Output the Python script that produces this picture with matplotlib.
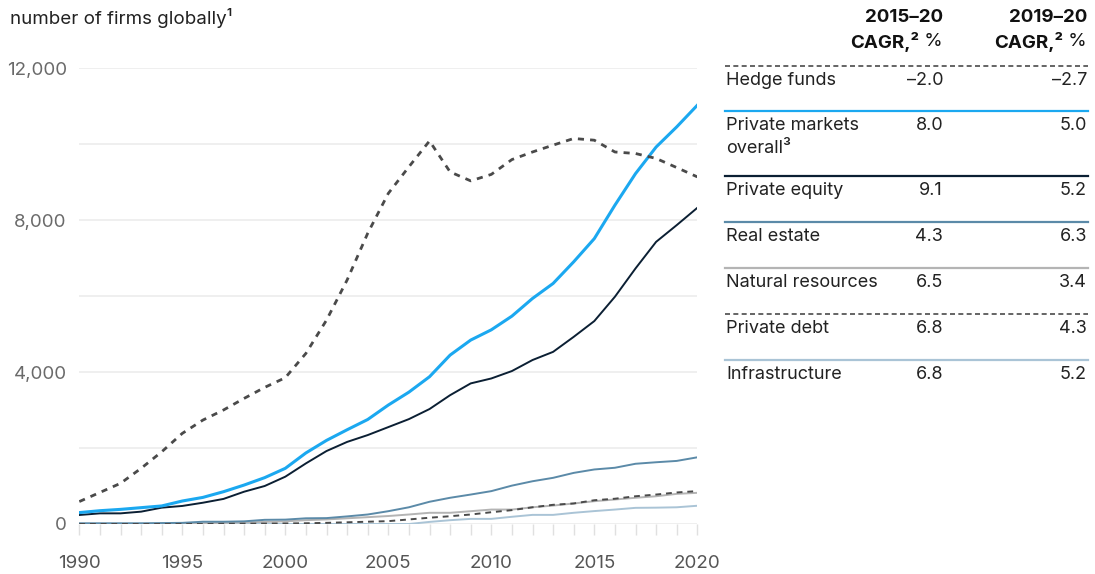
import numpy as np
import matplotlib
matplotlib.use("Agg")
import matplotlib.pyplot as plt
from matplotlib.lines import Line2D

plt.rcParams['font.family'] = ['Inter', 'DejaVu Sans']

years = np.arange(1990, 2021)

hedge_funds = [590, 830, 1070, 1465, 1900, 2385, 2735, 3000, 3305, 3595,
               3850, 4490, 5365, 6420, 7650, 8700, 9400, 10080, 9265, 9030,
               9200, 9590, 9790, 9970, 10145, 10100, 9790, 9750, 9620, 9380, 9135]
private_markets = [300, 350, 385, 430, 475, 605, 700, 850, 1025, 1220,
                   1465, 1870, 2200, 2480, 2750, 3130, 3470, 3875, 4445, 4840,
                   5110, 5470, 5935, 6330, 6900, 7510, 8390, 9220, 9920, 10450, 11020]
private_equity = [237, 280, 280, 325, 430, 475, 560, 660, 850, 1000,
                  1245, 1595, 1920, 2160, 2340, 2550, 2760, 3025, 3390, 3700,
                  3830, 4025, 4315, 4530, 4925, 5340, 5980, 6725, 7425, 7865, 8320]
real_estate = [20, 20, 20, 20, 25, 30, 60, 60, 70, 110,
               115, 150, 155, 200, 250, 337, 440, 585, 690, 775,
               865, 1010, 1125, 1215, 1345, 1435, 1480, 1585, 1625, 1660, 1755]
natural_resources = [0, 0, 0, 0, 5, 10, 20, 30, 40, 55,
                     70, 100, 120, 150, 180, 210, 250, 295, 295, 337,
                     380, 380, 440, 485, 540, 600, 645, 690, 730, 793, 820]
private_debt = [0, 0, 0, 0, 0, 0, 0, 5, 8, 10,
                15, 20, 30, 45, 60, 75, 120, 165, 205, 250,
                310, 365, 440, 505, 540, 625, 665, 730, 775, 830, 865]
infrastructure = [0, 0, 0, 0, 0, 0, 0, 0, 0, 0,
                  0, 0, 0, 0, 0, 0, 0, 55, 100, 135,
                  135, 190, 240, 240, 295, 340, 380, 425, 430, 440, 480]

table_rows = ['Hedge funds', 'Private markets\noverall³', 'Private equity',
              'Real estate', 'Natural resources', 'Private debt', 'Infrastructure']
cagr_15_20 = ['–2.0', '8.0', '9.1', '4.3', '6.5', '6.8', '6.8']
cagr_19_20 = ['–2.7', '5.0', '5.2', '6.3', '3.4', '4.3', '5.2']

C_HEDGE = '#4a4a4a'
C_PM = '#1ba8f0'
C_PE = '#0b1f33'
C_RE = '#5b8aa8'
C_NR = '#b4b4b4'
C_PD = '#4a4a4a'
C_INF = '#aac4d6'

W, H = 1095, 574
fig = plt.figure(figsize=(W / 100, H / 100), dpi=100)
ax = fig.add_axes([79.3 / W, 1 - 524 / H, (697.3 - 79.3) / W, (524 - 68) / H])

ax.plot(years, infrastructure, color=C_INF, lw=1.4, zorder=3)
ax.plot(years, natural_resources, color=C_NR, lw=1.4, zorder=3)
ax.plot(years, private_debt, color=C_PD, lw=1.4, ls=(0, (3, 2.5)), zorder=4)
ax.plot(years, real_estate, color=C_RE, lw=1.4, zorder=3)
ax.plot(years, private_equity, color=C_PE, lw=1.4, zorder=4)
ax.plot(years, private_markets, color=C_PM, lw=2.2, zorder=5)
ax.plot(years, hedge_funds, color=C_HEDGE, lw=2.0, ls=(0, (2.2, 2.2)), zorder=5)

ax.set_xlim(1990, 2020)
ax.set_ylim(0, 12000)
for s in ax.spines.values():
    s.set_visible(False)
ax.set_yticks(np.arange(0, 12001, 2000))
ax.set_yticklabels(['0', '', '4,000', '', '8,000', '', '12,000'])
ax.yaxis.grid(True, color='#ececec', lw=1.2, zorder=0)
ax.tick_params(axis='y', length=0, pad=9, labelsize=13.5, labelcolor='#6a6a6a')
ax.set_xticks(years)
ax.set_xticklabels([str(y) if y % 5 == 0 else '' for y in years])
ax.tick_params(axis='x', length=8, width=1, color='#e0e0e0', pad=14,
               labelsize=13.5, labelcolor='#555555')
ax.set_axisbelow(True)


def fx(x):
    return x / W


def fy(y):
    return 1 - y / H


fig.text(fx(10), fy(18), 'number of firms globally¹', fontsize=13.5,
         color='#222222', va='center', ha='left')

# table header
renderer = fig.canvas.get_renderer()
for right, period in [(943, '2015–20'), (1087, '2019–20')]:
    fig.text(fx(right), fy(17), period, fontsize=13.5, fontweight='bold',
             color='#111111', ha='right', va='center')
    pct = fig.text(fx(right), fy(42), ' %', fontsize=13.5, color='#111111',
                   ha='right', va='center')
    bb = pct.get_window_extent(renderer)
    fig.text(bb.x0 / W, fy(42), 'CAGR,²', fontsize=13.5, fontweight='bold',
             color='#111111', ha='right', va='center')

row_lines = [66, 111, 176, 222, 268, 314, 360]
line_colors = [C_HEDGE, C_PM, C_PE, C_RE, '#b4b4b4', C_PD, C_INF]
line_styles = ['dash', 'solid', 'solid', 'solid', 'solid', 'dash', 'solid']
for i, name in enumerate(table_rows):
    y0 = row_lines[i]
    ls = (0, (3, 2)) if line_styles[i] == 'dash' else '-'
    lw = 1.2 if line_styles[i] == 'dash' else 1.6
    fig.add_artist(Line2D([fx(725), fx(1088)], [fy(y0), fy(y0)], color=line_colors[i],
                          lw=lw, ls=ls))
    fig.text(fx(726), fy(y0 + 6), name, fontsize=13, color='#222222',
             ha='left', va='top', linespacing=1.45)
    fig.text(fx(943), fy(y0 + 6), cagr_15_20[i], fontsize=13, color='#222222',
             ha='right', va='top')
    fig.text(fx(1087), fy(y0 + 6), cagr_19_20[i], fontsize=13, color='#222222',
             ha='right', va='top')

fig.savefig('out.png', dpi=100)
